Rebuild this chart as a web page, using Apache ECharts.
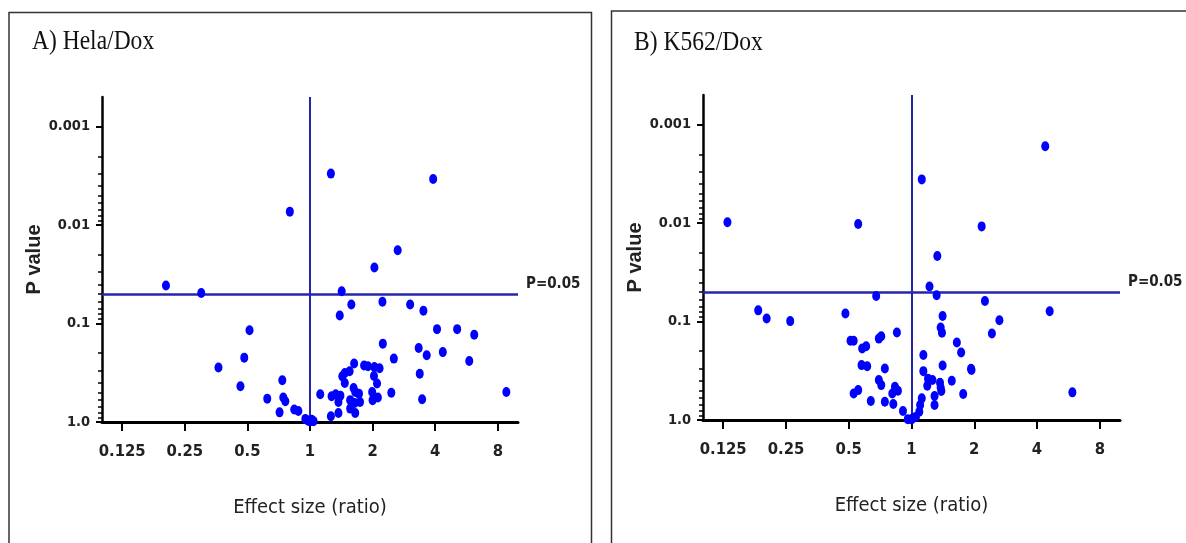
<!DOCTYPE html>
<html>
<head>
<meta charset="utf-8">
<title>Volcano plots</title>
<script src="https://cdn.jsdelivr.net/npm/echarts@6/dist/echarts.min.js"></script>
<style>
  html, body { margin: 0; padding: 0; background: #fff; }
  #container { width: 1186px; height: 543px; }
</style>
</head>
<body>
<div id="container"></div>
<script>
// tick labels
var xTicks = [0.125, 0.25, 0.5, 1, 2, 4, 8];
var yTicks = [0.001, 0.01, 0.1, 1];
var yMinorTicks = [0.002, 0.003, 0.004, 0.005, 0.006, 0.007, 0.008, 0.009,
                   0.02, 0.03, 0.04, 0.05, 0.06, 0.07, 0.08, 0.09,
                   0.2, 0.3, 0.4, 0.5, 0.6, 0.7, 0.8, 0.9];
var panelTitles = ['A) Hela/Dox', 'B) K562/Dox'];
var pCutoff = 0.05;

// [effect size (ratio), P value]
var helaPoints = [
  [1.26, 0.0030], [3.91, 0.0034], [0.80, 0.0073], [2.64, 0.018], [2.04, 0.027],
  [0.203, 0.041], [0.30, 0.049], [1.42, 0.047], [1.58, 0.064], [2.23, 0.060],
  [3.03, 0.064], [3.51, 0.074], [1.39, 0.083], [0.512, 0.117], [4.08, 0.114],
  [5.10, 0.114], [6.16, 0.130], [2.24, 0.160], [3.33, 0.177], [3.64, 0.210],
  [4.35, 0.195], [2.53, 0.227], [5.83, 0.240], [0.483, 0.222], [0.363, 0.279],
  [1.63, 0.255], [1.82, 0.267], [1.90, 0.272], [2.04, 0.277], [2.16, 0.285],
  [1.55, 0.305], [1.47, 0.318], [1.43, 0.344], [1.47, 0.402], [2.03, 0.341],
  [2.10, 0.407], [3.37, 0.323], [0.463, 0.434], [0.736, 0.377], [0.623, 0.579],
  [0.744, 0.565], [0.761, 0.616], [0.714, 0.798], [0.84, 0.748], [0.879, 0.773],
  [1.12, 0.523], [1.27, 0.548], [1.33, 0.523], [1.40, 0.540], [1.37, 0.627],
  [1.62, 0.452], [1.65, 0.496], [1.72, 0.515], [1.56, 0.600], [1.64, 0.641],
  [1.74, 0.627], [1.56, 0.731], [1.65, 0.810], [1.99, 0.496], [2.00, 0.600],
  [2.12, 0.565], [2.46, 0.504], [3.46, 0.588], [8.79, 0.496], [1.26, 0.875],
  [1.37, 0.810], [0.95, 0.93], [0.98, 0.97], [1.00, 0.99], [1.02, 0.95],
  [1.04, 0.98]
];

var k562Points = [
  [0.131, 0.0098], [0.555, 0.0102], [1.12, 0.0036], [4.38, 0.00166], [2.17, 0.0108],
  [1.33, 0.0216], [1.22, 0.044], [1.32, 0.054], [0.677, 0.055], [0.184, 0.077],
  [0.202, 0.093], [0.262, 0.099], [0.482, 0.083], [0.510, 0.157], [0.528, 0.157],
  [0.580, 0.188], [0.606, 0.178], [0.697, 0.149], [0.716, 0.141], [0.851, 0.129],
  [0.576, 0.277], [0.613, 0.284], [0.745, 0.300], [0.697, 0.393], [0.716, 0.442],
  [0.528, 0.537], [0.555, 0.497], [0.638, 0.641], [0.745, 0.653], [0.818, 0.689],
  [0.809, 0.537], [0.833, 0.460], [0.861, 0.505], [0.91, 0.81], [0.96, 0.98],
  [1.00, 0.99], [1.02, 0.95], [1.05, 0.93], [1.14, 0.219], [1.14, 0.319],
  [1.12, 0.603], [1.10, 0.705], [1.09, 0.824], [1.20, 0.380], [1.26, 0.393],
  [1.19, 0.449], [1.29, 0.571], [1.29, 0.705], [4.60, 0.0787], [1.41, 0.0877],
  [2.64, 0.097], [2.25, 0.0618], [1.38, 0.115], [1.40, 0.130], [2.43, 0.132],
  [1.65, 0.163], [1.73, 0.206], [1.41, 0.279], [1.93, 0.302], [1.94, 0.311],
  [1.37, 0.419], [1.38, 0.467], [1.39, 0.508], [1.56, 0.400], [1.77, 0.545],
  [5.91, 0.524]
];

var narrowFont = "'Liberation Sans Narrow', 'Arial Narrow', 'DejaVu Sans Condensed', 'Liberation Sans', sans-serif";
var lineBlue = '#2424ad';

var grids = [
  { left: 102, top: 97, width: 416, height: 325 },
  { left: 703, top: 95, width: 417, height: 325 }
];

var xAxes = [], yAxes = [], series = [];

[helaPoints, k562Points].forEach(function (points, i) {
  xAxes.push({
    type: 'log', logBase: 2, gridIndex: i, min: 0.1, max: 10,
    axisLine: { show: true, lineStyle: { color: '#000', width: 3 } },
    axisTick: { show: true, customValues: xTicks, length: 9, lineStyle: { color: '#000', width: 2 } },
    axisLabel: {
      customValues: xTicks, margin: 21, color: '#222', fontSize: 16.5, fontWeight: 'bold',
      fontFamily: narrowFont,
      formatter: function (v) { return String(v); }
    },
    splitLine: { show: false },
    name: 'Effect size (ratio)', nameLocation: 'middle', nameGap: 76,
    nameTextStyle: { color: '#222', fontSize: 20, fontFamily: narrowFont }
  });

  yAxes.push({
    type: 'log', logBase: 10, gridIndex: i, min: 0.0005, max: 1, inverse: true,
    position: 'left',
    axisLine: { show: true, lineStyle: { color: '#000', width: 2.5 } },
    axisTick: { show: true, customValues: yTicks, length: 6, lineStyle: { color: '#000', width: 2 } },
    axisLabel: {
      customValues: yTicks, margin: 12, color: '#222', fontSize: 14.5, fontWeight: 'bold',
      fontFamily: narrowFont,
      formatter: function (v) { return v === 1 ? '1.0' : String(v); }
    },
    splitLine: { show: false },
    name: 'P value', nameLocation: 'middle', nameGap: 57,
    nameTextStyle: { color: '#222', fontSize: 20, fontWeight: 'bold', fontFamily: "'Liberation Sans', Arial, sans-serif" }
  });

  // minor ticks on the P value axis
  yAxes.push({
    type: 'log', logBase: 10, gridIndex: i, min: 0.0005, max: 1, inverse: true,
    position: 'left', offset: 0,
    axisLine: { show: false },
    axisTick: { show: true, customValues: yMinorTicks, length: 4, lineStyle: { color: '#000', width: 1.5 } },
    axisLabel: { show: false },
    splitLine: { show: false }
  });

  series.push({
    type: 'scatter',
    xAxisIndex: i,
    yAxisIndex: i * 2,
    data: points,
    symbol: 'circle',
    symbolSize: [8, 10],
    itemStyle: { color: '#0000ff', opacity: 1 },
    z: 3,
    markLine: {
      silent: true,
      symbol: 'none',
      animation: false,
      z: 2,
      lineStyle: { color: lineBlue, width: 2, type: 'solid' },
      data: [
        {
          yAxis: pCutoff,
          lineStyle: { width: 2.5 },
          label: {
            show: true, position: 'end', distance: 8, formatter: 'P=0.05',
            color: '#222', fontSize: 15, fontWeight: 'bold', fontFamily: narrowFont,
            verticalAlign: 'bottom', padding: [0, 0, 2, 0]
          }
        },
        { xAxis: 1, label: { show: false } }
      ]
    }
  });
});

var chart = echarts.init(document.getElementById('container'), null, { renderer: 'canvas' });

var titleFont = "28px 'Liberation Serif', 'Times New Roman', serif";

chart.setOption({
  backgroundColor: '#fff',
  animation: false,
  grid: grids,
  xAxis: xAxes,
  yAxis: yAxes,
  series: series,
  graphic: [
    { type: 'rect', silent: true, shape: { x: 9, y: 12.5, width: 582.5, height: 560 },
      style: { fill: 'none', stroke: '#333', lineWidth: 1.5 } },
    { type: 'rect', silent: true, shape: { x: 611.5, y: 11, width: 620, height: 560 },
      style: { fill: 'none', stroke: '#333', lineWidth: 1.5 } },
    { type: 'text', x: 32, y: 27.5, scaleX: 0.84, silent: true,
      style: { text: panelTitles[0], font: titleFont, fill: '#111' } },
    { type: 'text', x: 634, y: 29, scaleX: 0.84, silent: true,
      style: { text: panelTitles[1], font: titleFont, fill: '#111' } }
  ]
});

window.addEventListener('resize', function () {
  chart.resize();
});
</script>
</body>
</html>
